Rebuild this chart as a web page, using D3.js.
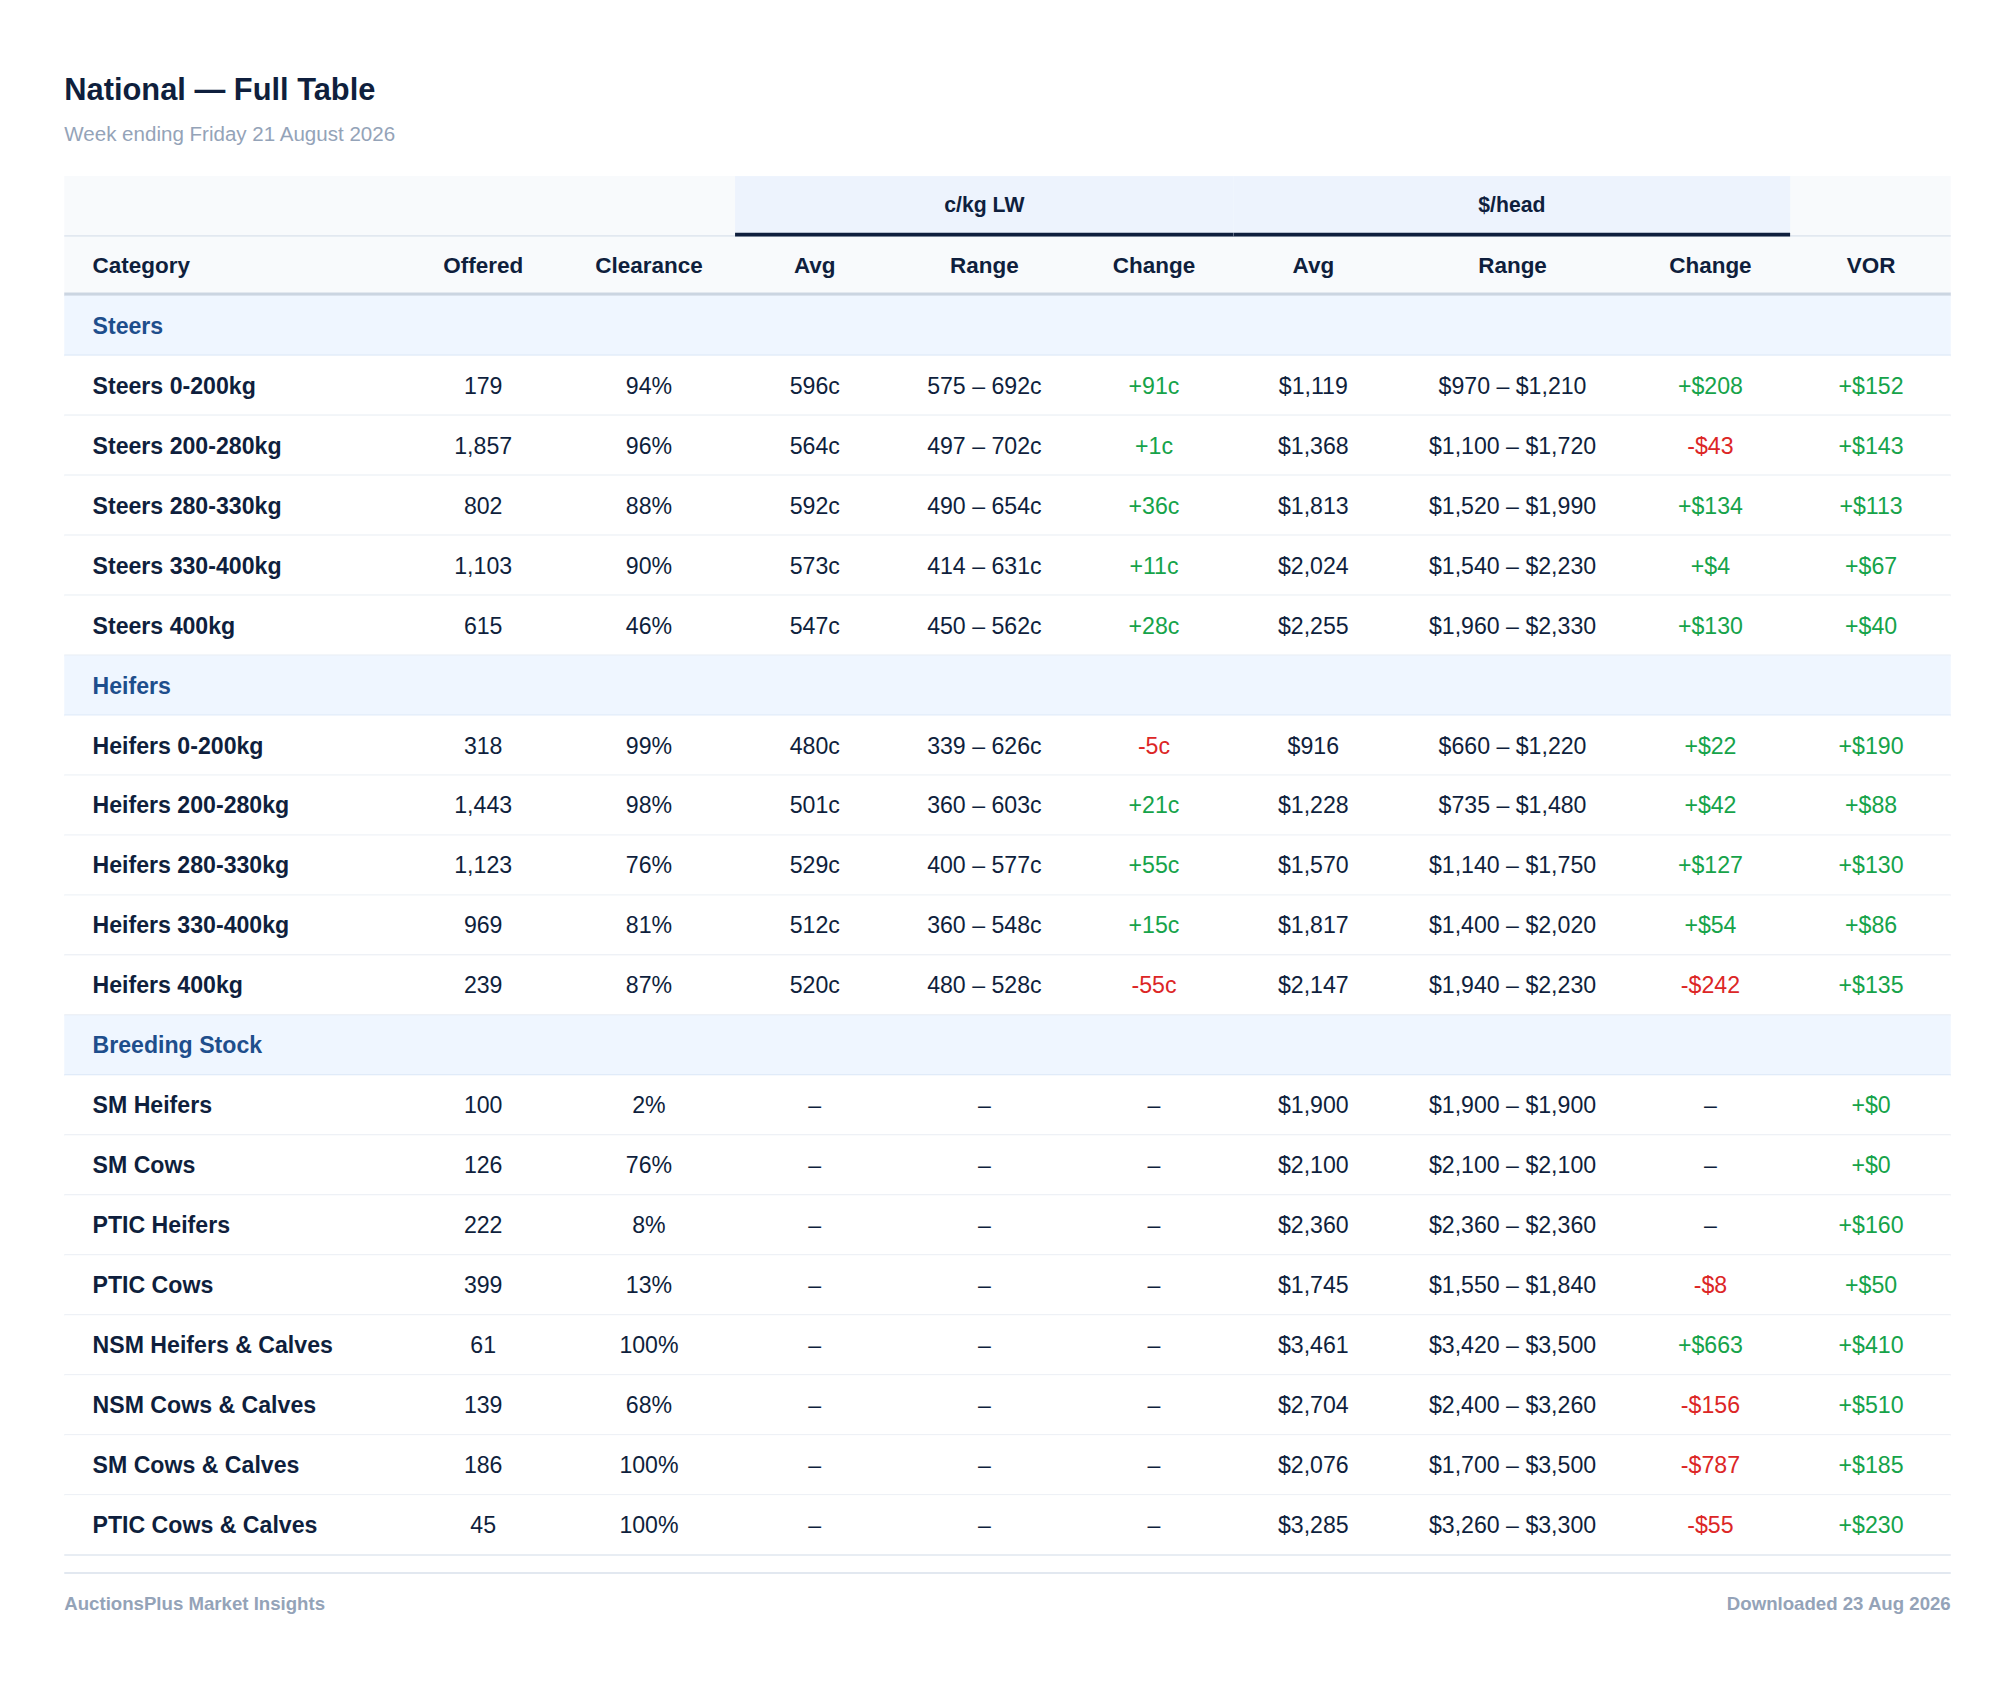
<!DOCTYPE html>
<html><head><meta charset="utf-8">
<script src="https://cdn.jsdelivr.net/npm/d3@7"></script>
<style>body{margin:0;background:#fff}svg{display:block;font-family:"Liberation Sans",Arial,sans-serif}</style>
</head><body>
<svg id="c" width="2015" height="1692" viewBox="0 0 1568 1316.6"></svg>
<script>
const columns = ["Category", "Offered", "Clearance", "Avg", "Range", "Change", "Avg", "Range", "Change", "VOR"];
const groups = [{name: "c/kg LW", from: 3, to: 5}, {name: "$/head", from: 6, to: 8}];
const sections = ["Steers", "Heifers", "Breeding Stock"];
const categories = [
  ["Steers 0-200kg", "Steers 200-280kg", "Steers 280-330kg", "Steers 330-400kg", "Steers 400kg"],
  ["Heifers 0-200kg", "Heifers 200-280kg", "Heifers 280-330kg", "Heifers 330-400kg", "Heifers 400kg"],
  ["SM Heifers", "SM Cows", "PTIC Heifers", "PTIC Cows", "NSM Heifers & Calves", "NSM Cows & Calves", "SM Cows & Calves", "PTIC Cows & Calves"]
];
const offered = [[179, 1857, 802, 1103, 615], [318, 1443, 1123, 969, 239], [100, 126, 222, 399, 61, 139, 186, 45]];
const clearance = [[94, 96, 88, 90, 46], [99, 98, 76, 81, 87], [2, 76, 8, 13, 100, 68, 100, 100]];
const ckgAvg = [[596, 564, 592, 573, 547], [480, 501, 529, 512, 520], [null, null, null, null, null, null, null, null]];
const ckgLo = [[575, 497, 490, 414, 450], [339, 360, 400, 360, 480], [null, null, null, null, null, null, null, null]];
const ckgHi = [[692, 702, 654, 631, 562], [626, 603, 577, 548, 528], [null, null, null, null, null, null, null, null]];
const ckgChange = [[91, 1, 36, 11, 28], [-5, 21, 55, 15, -55], [null, null, null, null, null, null, null, null]];
const headAvg = [[1119, 1368, 1813, 2024, 2255], [916, 1228, 1570, 1817, 2147], [1900, 2100, 2360, 1745, 3461, 2704, 2076, 3285]];
const headLo = [[970, 1100, 1520, 1540, 1960], [660, 735, 1140, 1400, 1940], [1900, 2100, 2360, 1550, 3420, 2400, 1700, 3260]];
const headHi = [[1210, 1720, 1990, 2230, 2330], [1220, 1480, 1750, 2020, 2230], [1900, 2100, 2360, 1840, 3500, 3260, 3500, 3300]];
const headChange = [[208, -43, 134, 4, 130], [22, 42, 127, 54, -242], [null, null, null, -8, 663, -156, -787, -55]];
const vor = [[152, 143, 113, 67, 40], [190, 88, 130, 86, 135], [0, 0, 160, 50, 410, 510, 185, 230]];

const svg = d3.select("#c");
const L = 50, R = 1518;
const colCenters = [72, 376, 505, 634, 766, 898, 1022, 1177, 1331, 1456];
const colEdges = [50, 310, 441, 572, 698, 834, 960, 1085, 1268, 1393, 1518];
const rowH = 46.67;
const NAVY = "#0f1f3d", GREEN = "#16a34a", RED = "#dc2626";
const fmt = d3.format(",");

// title
svg.append("text").attr("x", L).attr("y", 78).attr("font-size", 24).attr("font-weight", 700).attr("fill", NAVY).text("National — Full Table");
svg.append("text").attr("x", L).attr("y", 110).attr("font-size", 16).attr("fill", "#94a3b8").text("Week ending Friday 21 August 2026");

// group header band
const gTop = 137, hTop = 183.5, bodyTop = 230;
svg.append("rect").attr("x", L).attr("y", gTop).attr("width", R - L).attr("height", hTop - gTop + rowH).attr("fill", "#f8fafc");
svg.append("line").attr("x1", L).attr("x2", R).attr("y1", hTop).attr("y2", hTop).attr("stroke", "#e2e8f0").attr("stroke-width", 1.5);
groups.forEach(g => {
  const x0 = colEdges[g.from], x1 = colEdges[g.to + 1];
  svg.append("rect").attr("x", x0).attr("y", gTop).attr("width", x1 - x0).attr("height", hTop - gTop).attr("fill", "#edf3fd");
  svg.append("line").attr("x1", x0).attr("x2", x1).attr("y1", hTop - 1).attr("y2", hTop - 1).attr("stroke", NAVY).attr("stroke-width", 3);
  svg.append("text").attr("x", (x0 + x1) / 2).attr("y", 159).attr("dy", "0.35em").attr("text-anchor", "middle")
    .attr("font-size", 16.5).attr("font-weight", 700).attr("fill", NAVY).text(g.name);
});
svg.selectAll("text.hdr").data(columns).join("text").attr("class", "hdr")
  .attr("x", (d, i) => colCenters[i]).attr("y", 206).attr("dy", "0.35em")
  .attr("text-anchor", (d, i) => i === 0 ? "start" : "middle")
  .attr("font-size", 17.5).attr("font-weight", 700).attr("fill", NAVY).text(d => d);
svg.append("line").attr("x1", L).attr("x2", R).attr("y1", bodyTop - 1).attr("y2", bodyTop - 1).attr("stroke", "#cbd5e1").attr("stroke-width", 3);

// build rows
const rows = [];
sections.forEach((s, si) => {
  rows.push({section: s});
  categories[si].forEach((c, i) => {
    const dash = "–";
    const sign = (v, pre, suf) => v == null ? {t: dash, c: NAVY} : {t: (v < 0 ? "-" : "+") + pre + fmt(Math.abs(v)) + suf, c: v < 0 ? RED : GREEN};
    rows.push({cells: [
      {t: c, c: NAVY, b: true},
      {t: fmt(offered[si][i]), c: NAVY},
      {t: clearance[si][i] + "%", c: NAVY},
      {t: ckgAvg[si][i] == null ? dash : ckgAvg[si][i] + "c", c: NAVY},
      {t: ckgLo[si][i] == null ? dash : ckgLo[si][i] + " – " + ckgHi[si][i] + "c", c: NAVY},
      sign(ckgChange[si][i], "", "c"),
      {t: "$" + fmt(headAvg[si][i]), c: NAVY},
      {t: "$" + fmt(headLo[si][i]) + " – $" + fmt(headHi[si][i]), c: NAVY},
      sign(headChange[si][i], "$", ""),
      sign(vor[si][i], "$", "")
    ]});
  });
});

const y = d3.scaleBand().domain(d3.range(rows.length)).range([bodyTop, bodyTop + rows.length * rowH]);
const rg = svg.selectAll("g.row").data(rows).join("g").attr("class", "row").attr("transform", (d, i) => `translate(0,${y(i)})`);
rg.append("rect").attr("x", L).attr("width", R - L).attr("height", rowH).attr("fill", d => d.section ? "#eff6ff" : "#fff");
rg.append("line").attr("x1", L).attr("x2", R).attr("y1", rowH).attr("y2", rowH).attr("stroke", d => d.section ? "#dbe7f7" : "#e8edf3").attr("stroke-width", 1.5);
rg.filter(d => d.section).append("text").attr("x", colCenters[0]).attr("y", rowH / 2).attr("dy", "0.35em")
  .attr("font-size", 18).attr("font-weight", 700).attr("fill", "#1e4e8c").text(d => d.section);
rg.filter(d => !d.section).selectAll("text").data(d => d.cells).join("text")
  .attr("x", (d, i) => colCenters[i]).attr("y", rowH / 2).attr("dy", "0.35em")
  .attr("text-anchor", (d, i) => i === 0 ? "start" : "middle")
  .attr("font-size", 18).attr("font-weight", d => d.b ? 700 : 400).attr("fill", d => d.c).text(d => d.t);

// footer
const fy = bodyTop + rows.length * rowH + 14;
svg.append("line").attr("x1", L).attr("x2", R).attr("y1", fy).attr("y2", fy).attr("stroke", "#e2e8f0").attr("stroke-width", 1.5);
svg.append("text").attr("x", L).attr("y", fy + 24).attr("dy", "0.35em").attr("font-size", 14.5).attr("font-weight", 700).attr("fill", "#94a3b8").text("AuctionsPlus Market Insights");
svg.append("text").attr("x", R).attr("y", fy + 24).attr("dy", "0.35em").attr("text-anchor", "end").attr("font-size", 14.5).attr("font-weight", 700).attr("fill", "#94a3b8").text("Downloaded 23 Aug 2026");
</script>
</body></html>
